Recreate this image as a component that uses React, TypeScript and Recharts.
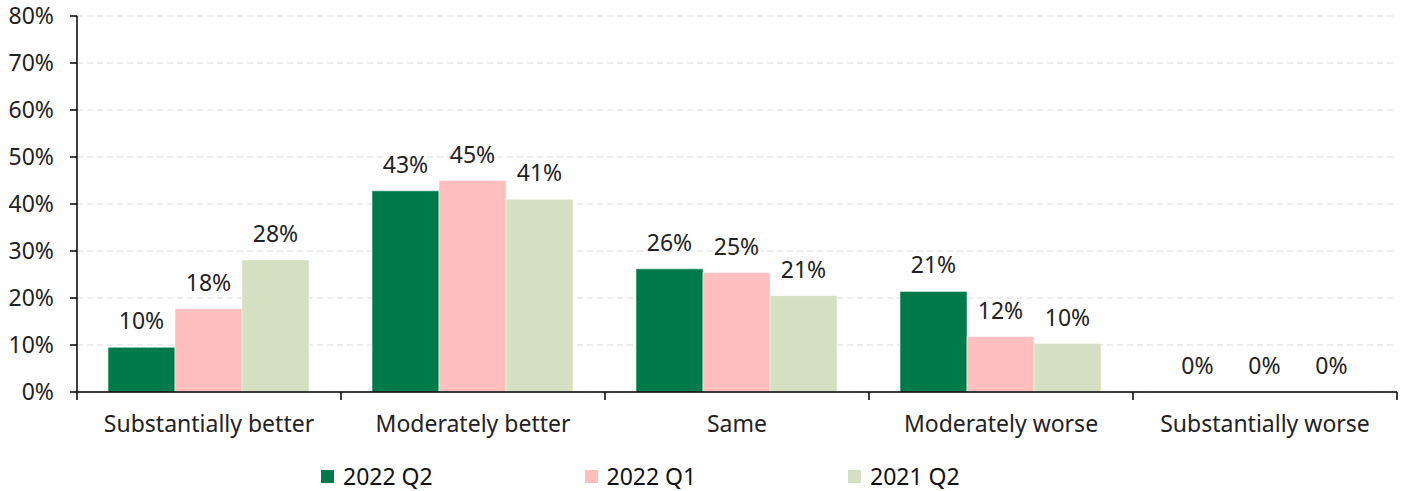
import React from 'react';
import { BarChart, Bar, XAxis, YAxis, CartesianGrid, LabelList, Legend } from 'recharts';

const categories = ['Substantially better', 'Moderately better', 'Same', 'Moderately worse', 'Substantially worse'];
const q2_2022 = [9.5, 42.8, 26.2, 21.4, 0];
const q1_2022 = [17.7, 45.0, 25.4, 11.8, 0];
const q2_2021 = [28.1, 41.0, 20.5, 10.3, 0];
const yTicks = [0, 10, 20, 30, 40, 50, 60, 70, 80];

const series = [
  { key: 'q2_2022', name: '2022 Q2', color: '#00794B' },
  { key: 'q1_2022', name: '2022 Q1', color: '#FFBFBF' },
  { key: 'q2_2021', name: '2021 Q2', color: '#D5DFC2' },
];

const data = categories.map((c, i) => ({
  category: c,
  q2_2022: q2_2022[i],
  q1_2022: q1_2022[i],
  q2_2021: q2_2021[i],
}));

const FONT = '"Noto Sans", sans-serif';
const FS = 23;
const W = 1405;
const H = 491;
const LEFT = 77;
const RIGHT = 8;
const BAND = (W - LEFT - RIGHT) / categories.length;

const XTick = (props: any) => {
  const { x, y, payload, index } = props;
  const left = x - BAND / 2;
  const right = x + BAND / 2;
  return (
    <g>
      <line x1={left} y1={y - 8} x2={left} y2={y} stroke="#000" strokeWidth={1.5} />
      {index === categories.length - 1 && (
        <line x1={right} y1={y - 8} x2={right} y2={y} stroke="#000" strokeWidth={1.5} />
      )}
      <text x={x} y={y + 32} textAnchor="middle" fill="#222" fontFamily={FONT} fontSize={FS}>
        {payload.value}
      </text>
    </g>
  );
};

const BarValueLabel = (props: any) => {
  const { x, y, width, value } = props;
  return (
    <text x={Number(x) + Number(width) / 2} y={Number(y) - 18} textAnchor="middle" fill="#222" fontFamily={FONT} fontSize={FS}>
      {`${Math.round(Number(value))}%`}
    </text>
  );
};

const LegendContent = () => (
  <div style={{ position: 'relative', width: W, height: 30, fontFamily: FONT, fontSize: FS, color: '#111' }}>
    {series.map((s, i) => (
      <div key={s.key} style={{ position: 'absolute', left: 321 + i * 263.5, top: 0, display: 'flex', alignItems: 'center', height: 30, whiteSpace: 'nowrap' }}>
        <span style={{ display: 'inline-block', width: 13, height: 13, background: s.color, marginRight: 9 }} />
        <span style={{ lineHeight: '30px' }}>{s.name}</span>
      </div>
    ))}
  </div>
);

export default function App() {
  return (
    <div style={{ position: 'absolute', top: 0, left: 0, width: W, height: H }}>
      <BarChart
        width={W}
        height={H}
        data={data}
        margin={{ top: 16, right: RIGHT, left: 0, bottom: 10 }}
        barCategoryGap={31}
        barGap={0}
      >
        <CartesianGrid vertical={false} stroke="#d9d9d9" strokeDasharray="6 4" />
        <XAxis
          dataKey="category"
          tick={<XTick />}
          tickLine={false}
          axisLine={{ stroke: '#000', strokeWidth: 1.5 }}
          interval={0}
          height={59}
        />
        <YAxis
          width={LEFT}
          domain={[0, 80]}
          ticks={yTicks}
          tickFormatter={(v: number) => `${v}%`}
          axisLine={{ stroke: '#000', strokeWidth: 1.5 }}
          tickLine={{ stroke: '#000', strokeWidth: 1.5 }}
          tickSize={7}
          tickMargin={16}
          tick={{ fill: '#222', fontFamily: FONT, fontSize: FS }}
          interval={0}
        />
        <Legend
          verticalAlign="bottom"
          content={<LegendContent />}
          wrapperStyle={{ top: 461, left: 0, width: W, height: 30 }}
        />
        {series.map((s) => (
          <Bar
            key={s.key}
            dataKey={s.key}
            name={s.name}
            fill={s.color}
            stroke="#ffffff"
            strokeWidth={0.5}
            minPointSize={0.01}
            isAnimationActive={false}
          >
            <LabelList dataKey={s.key} content={<BarValueLabel />} />
          </Bar>
        ))}
      </BarChart>
    </div>
  );
}
